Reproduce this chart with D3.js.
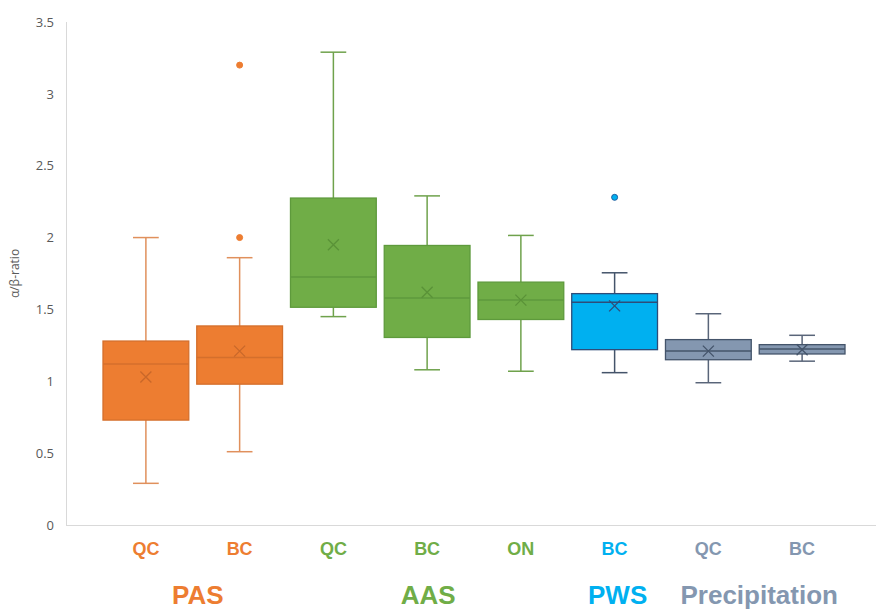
<!DOCTYPE html>
<html><head><meta charset="utf-8">
<script src="https://cdn.jsdelivr.net/npm/d3@7"></script>
<style>body{margin:0;background:#fff}svg{display:block}</style>
</head><body>
<script>
const categories = ["PAS-QC","PAS-BC","AAS-QC","AAS-BC","AAS-ON","PWS-BC","Prec-QC","Prec-BC"];
const catLabels  = ["QC","BC","QC","BC","ON","BC","QC","BC"];
const groupOf    = ["PAS","PAS","AAS","AAS","AAS","PWS","Precipitation","Precipitation"];
const lowerWhisker = [0.29, 0.51, 1.45, 1.08, 1.07, 1.06, 0.99, 1.14];
const q1Values     = [0.73, 0.98, 1.515, 1.305, 1.43, 1.22, 1.15, 1.19];
const medians      = [1.12, 1.165, 1.725, 1.58, 1.565, 1.55, 1.21, 1.225];
const q3Values     = [1.28, 1.385, 2.275, 1.945, 1.69, 1.61, 1.29, 1.255];
const upperWhisker = [2.0, 1.86, 3.29, 2.29, 2.015, 1.755, 1.47, 1.32];
const means        = [1.03, 1.21, 1.95, 1.62, 1.565, 1.525, 1.21, 1.22];
const outliers     = [[], [2.0, 3.2], [], [], [], [2.28], [], []];
const yTicks = [0, 0.5, 1, 1.5, 2, 2.5, 3, 3.5];
const groups = ["PAS","AAS","PWS","Precipitation"];

const groupStyle = {
  "PAS": {fill:"#ED7D31", stroke:"#D46F2C", whisker:"#E0905C", mean:"#C9682A", text:"#ED7D31"},
  "AAS": {fill:"#70AD47", stroke:"#5E9A3C", whisker:"#6FA24C", mean:"#5A9238", text:"#70AD47"},
  "PWS": {fill:"#00B0F0", stroke:"#2E4C78", whisker:"#44546A", mean:"#2E4C78", text:"#00B0F0"},
  "Precipitation": {fill:"#8497B0", stroke:"#44546A", whisker:"#596579", mean:"#44546A", text:"#8497B0"}
};

const W = 876, H = 612;
const svg = d3.select("body").append("svg").attr("width", W).attr("height", H);

const y = d3.scaleLinear().domain([0, 3.5]).range([525, 22]);
const x = d3.scaleBand().domain(categories).range([103, 845]).paddingInner(0.085).paddingOuter(0);

// axes lines
svg.append("line").attr("x1", 66.5).attr("x2", 66.5).attr("y1", y(3.5)).attr("y2", y(0))
  .attr("stroke", "#D9D9D9").attr("stroke-width", 1);
svg.append("line").attr("x1", 66).attr("x2", W).attr("y1", y(0)+0.5).attr("y2", y(0)+0.5)
  .attr("stroke", "#D9D9D9").attr("stroke-width", 1);

// y tick labels
const yAxis = d3.axisLeft(y).tickValues(yTicks).tickSize(0).tickPadding(12).tickFormat(d3.format("~g"));
const ya = svg.append("g").attr("transform", "translate(66,0)").call(yAxis);
ya.select(".domain").remove();
ya.selectAll("text").attr("fill", "#595959").style("font-family", "Open Sans, Liberation Sans, sans-serif").style("font-size", "13px");

// y title
svg.append("text").attr("transform", `translate(19,${(y(0)+y(3.5))/2}) rotate(-90)`)
  .attr("text-anchor", "middle").attr("fill", "#595959")
  .style("font-family", "Open Sans, Liberation Sans, sans-serif").style("font-size", "12px")
  .text("α/β-ratio");

// boxes
const bw = x.bandwidth();
categories.forEach((c, i) => {
  const st = groupStyle[groupOf[i]];
  const cx = x(c) + bw/2;
  const g = svg.append("g");
  const capW = bw*0.3;
  g.append("line").attr("x1", cx).attr("x2", cx).attr("y1", y(upperWhisker[i])).attr("y2", y(q3Values[i]))
    .attr("stroke", st.whisker).attr("stroke-width", 1.5);
  g.append("line").attr("x1", cx).attr("x2", cx).attr("y1", y(q1Values[i])).attr("y2", y(lowerWhisker[i]))
    .attr("stroke", st.whisker).attr("stroke-width", 1.5);
  g.append("line").attr("x1", cx-capW/2).attr("x2", cx+capW/2).attr("y1", y(upperWhisker[i])).attr("y2", y(upperWhisker[i]))
    .attr("stroke", st.whisker).attr("stroke-width", 1.5);
  g.append("line").attr("x1", cx-capW/2).attr("x2", cx+capW/2).attr("y1", y(lowerWhisker[i])).attr("y2", y(lowerWhisker[i]))
    .attr("stroke", st.whisker).attr("stroke-width", 1.5);
  g.append("rect").attr("x", x(c)).attr("width", bw)
    .attr("y", y(q3Values[i])).attr("height", y(q1Values[i]) - y(q3Values[i]))
    .attr("fill", st.fill).attr("stroke", st.stroke).attr("stroke-width", 1.3);
  g.append("line").attr("x1", x(c)).attr("x2", x(c)+bw).attr("y1", y(medians[i])).attr("y2", y(medians[i]))
    .attr("stroke", st.stroke).attr("stroke-width", 1.5);
  const my = y(means[i]), s = 5.5;
  g.append("path").attr("d", `M${cx-s},${my-s}L${cx+s},${my+s}M${cx-s},${my+s}L${cx+s},${my-s}`)
    .attr("stroke", st.mean).attr("stroke-width", 1.3).attr("fill", "none");
  outliers[i].forEach(v => {
    g.append("circle").attr("cx", cx).attr("cy", y(v)).attr("r", 3)
      .attr("fill", st.fill).attr("stroke", groupOf[i] === "PWS" ? "#1F5FA0" : st.fill).attr("stroke-width", 1);
  });
  svg.append("text").attr("x", cx).attr("y", 555).attr("text-anchor", "middle")
    .attr("fill", st.text).style("font-family", "Liberation Sans, sans-serif")
    .style("font-weight", "bold").style("font-size", "18px").text(catLabels[i]);
});

// group labels
const groupShift = {"PAS": 5, "AAS": 1, "PWS": 3, "Precipitation": 4};
groups.forEach(gname => {
  const idx = categories.filter((c, i) => groupOf[i] === gname);
  const cx = d3.mean(idx, c => x(c) + bw/2) + groupShift[gname];
  svg.append("text").attr("x", cx).attr("y", 604).attr("text-anchor", "middle")
    .attr("fill", groupStyle[gname].text).style("font-family", "Liberation Sans, sans-serif")
    .style("font-weight", "bold").style("font-size", "26px").text(gname);
});
</script>
</body></html>
